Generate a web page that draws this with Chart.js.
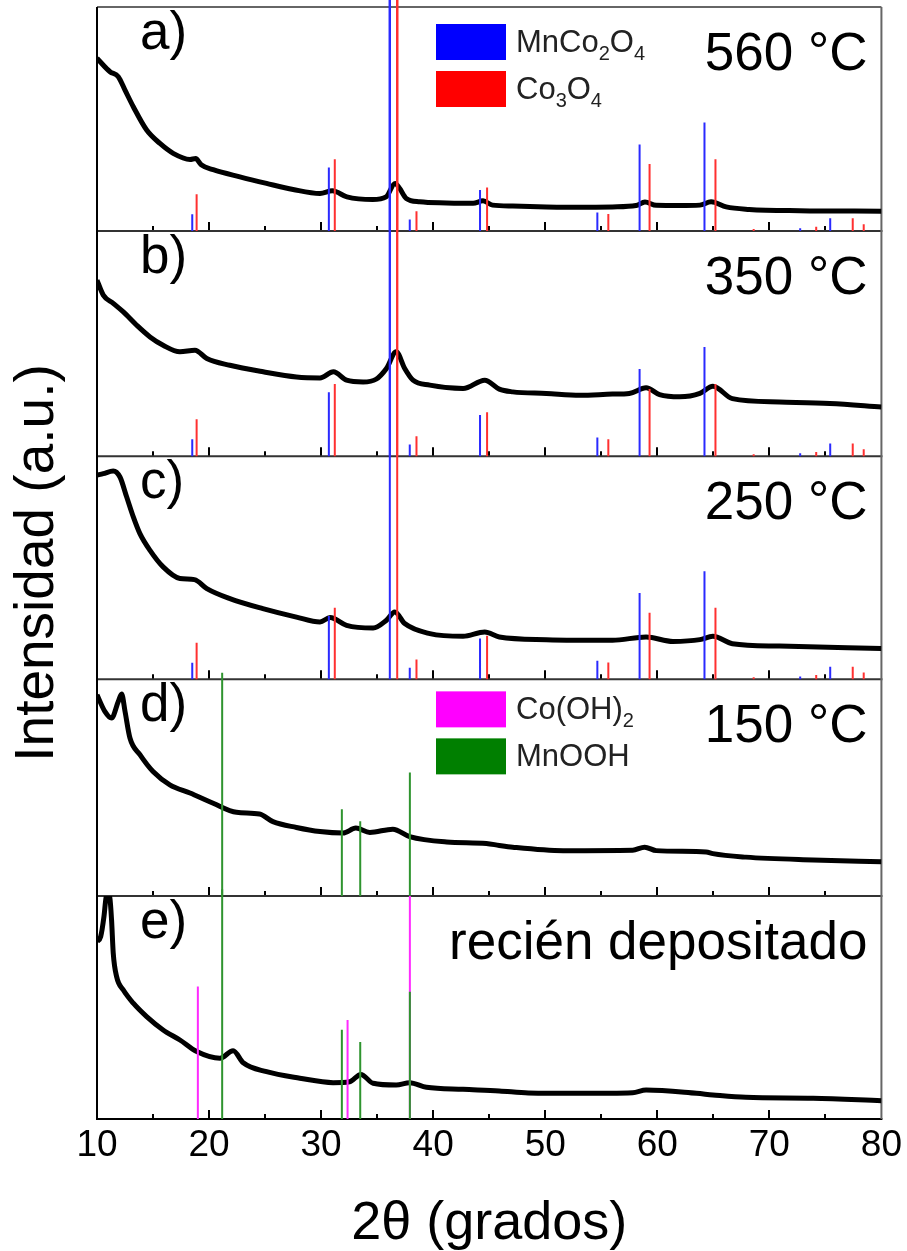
<!DOCTYPE html>
<html lang="es">
<head>
<meta charset="utf-8">
<title>DRX - MnCo2O4</title>
<script src="https://cdn.jsdelivr.net/npm/chart.js@4.4.1/dist/chart.umd.min.js"></script>
<style>
  html, body { margin: 0; padding: 0; background: #fff; }
  canvas { display: block; }
</style>
</head>
<body>
<canvas id="xrd" width="907" height="1251"></canvas>
<script>
// 2theta axis
const xTicks = [10, 20, 30, 40, 50, 60, 70, 80];

// measured patterns, [2theta, intensity] (each panel 0-100 a.u.)
const curveA = [[10.0,77.1],[11.16,71.1],[11.9,68.9],[12.5,62.9],[13.24,55.5],[14.43,45.1],[15.62,39.1],[16.8,34.7],[18.3,32.0],[18.8,32.4],[19.3,29.6],[20.37,27.4],[22.75,24.2],[25.13,21.3],[27.5,18.6],[29.9,16.8],[31.0,18.0],[32.3,15.3],[34.6,14.1],[35.8,15.3],[36.6,21.3],[37.0,19.1],[37.6,14.6],[38.8,13.1],[41.2,12.6],[43.56,12.4],[44.45,13.5],[45.3,11.6],[47.1,11.2],[50.1,10.8],[53.1,10.6],[56.0,10.8],[58.1,11.4],[58.9,13.0],[59.9,11.5],[62.0,11.4],[63.8,11.6],[64.8,13.1],[66.15,10.8],[68.2,9.7],[72.7,9.1],[80,8.9]];
const curveB = [[10.0,78.2],[10.56,71.6],[11.45,67.9],[12.35,64.1],[13.54,58.2],[14.73,53.0],[15.9,49.3],[17.4,46.4],[18.74,47.1],[19.8,43.4],[21.86,40.4],[24.83,37.5],[27.8,35.2],[29.9,34.8],[31.1,37.5],[32.27,33.8],[33.75,33.0],[34.9,34.2],[35.83,39.0],[36.7,46.4],[37.46,39.0],[38.2,33.8],[39.7,31.6],[42.67,30.1],[44.6,33.8],[45.9,29.8],[47.1,28.6],[50.1,27.9],[53.1,27.1],[56.0,27.6],[57.5,27.9],[59.0,30.4],[60.2,27.4],[62.0,26.4],[63.8,27.9],[64.96,31.1],[66.7,25.6],[70.9,24.1],[75.4,23.4],[80,21.9]];
const curveC = [[10.0,91.5],[10.56,92.2],[11.45,93.4],[12.05,90.7],[12.65,81.7],[13.24,72.8],[13.83,65.3],[14.73,57.8],[15.9,50.4],[17.4,45.2],[18.7,44.7],[19.8,40.7],[21.86,36.2],[24.8,31.7],[27.8,27.9],[29.9,25.7],[30.8,27.7],[32.27,24.2],[34.64,23.0],[35.83,26.5],[36.57,30.2],[37.46,25.0],[39.7,20.5],[42.67,19.3],[44.6,21.2],[45.9,19.0],[50.1,17.8],[56.0,17.5],[59.0,19.0],[61.4,17.0],[63.8,17.8],[64.96,19.3],[66.7,16.0],[70.9,14.9],[80,13.8]];
const curveD = [[10.0,92.9],[10.7,85.2],[11.3,82.1],[11.9,89.8],[12.2,93.2],[12.5,85.2],[12.94,72.9],[13.83,65.2],[15.0,57.4],[16.5,51.3],[18.3,47.5],[20.37,42.8],[22.45,38.6],[24.5,37.8],[25.7,34.3],[27.8,31.6],[29.9,29.7],[31.96,29.0],[33.1,31.3],[34.35,29.3],[36.4,30.8],[37.9,27.4],[41.2,24.9],[44.75,24.2],[45.9,23.3],[47.1,22.5],[51.6,20.9],[57.8,21.1],[58.87,22.5],[59.9,20.9],[64.36,20.3],[64.96,19.5],[67.9,17.9],[73.9,16.6],[80,15.8]];
const curveE = [[10.0,79.5],[10.33,81.8],[10.62,90.7],[10.8,99],[10.95,101],[11.15,99],[11.3,89.2],[11.45,74.3],[11.75,63.8],[12.35,57.8],[13.24,51.9],[14.43,45.9],[15.9,39.9],[17.4,35.4],[18.9,30.2],[20.97,27.2],[22.15,30.6],[23.05,25.2],[25.13,21.2],[28.1,18.3],[31.07,16.3],[32.56,16.7],[33.54,20.0],[34.64,16.0],[36.7,15.2],[37.9,16.3],[39.4,14.2],[42.67,13.3],[45.9,12.6],[48.5,11.7],[53.1,11.5],[57.8,11.8],[59.0,13.0],[63.5,11.5],[64.96,10.8],[67.9,9.7],[73.9,9.3],[80,8.2]];

// reference cards: positions (2theta) and relative intensities
const mnco2o4Pos = [18.5, 30.69, 36.13, 37.91, 44.18, 54.65, 58.42, 64.21, 72.75, 75.43];
const mnco2o4Int = [7.5, 28.4, 310, 5.2, 18.3, 8.3, 38.7, 48.5, 1.3, 5.7];
const co3o4Pos = [18.89, 31.22, 36.79, 38.51, 44.81, 55.63, 59.31, 65.19, 68.6, 74.18, 77.44, 78.42];
const co3o4Int = [16.4, 32.1, 310, 8.9, 19.5, 7.6, 29.9, 32.1, 0.9, 1.9, 5.7, 3.1];
const cooh2Pos = [19.0, 32.36, 37.92];
const cooh2Int = [59.4, 44.4, 100];
const mnoohPos = [21.17, 31.85, 33.49, 37.92];
const mnoohInt = [103, 40, 34.5, 57];

const panelLetters = ['a)', 'b)', 'c)', 'd)', 'e)'];
const panelTemps = ['560 °C', '350 °C', '250 °C', '150 °C', 'recién depositado'];

const FONT = 'Liberation Sans, Arial, Helvetica, sans-serif';
Chart.defaults.font.family = FONT;
Chart.defaults.color = '#000';

const refStyle = {
  mnco2o4: { label: 'MnCo_2O_4', color: '#0000ff', line: '#2a2aff', pos: mnco2o4Pos, int: mnco2o4Int },
  co3o4: { label: 'Co_3O_4', color: '#ff0000', line: '#ff3030', pos: co3o4Pos, int: co3o4Int },
  cooh2: { label: 'Co(OH)_2', color: '#ff00ff', line: '#ff2aff', pos: cooh2Pos, int: cooh2Int },
  mnooh: { label: 'MnOOH', color: '#007f00', line: '#2f942f', pos: mnoohPos, int: mnoohInt }
};

// top to bottom
const panels = [
  { id: 'ya', curve: curveA, refs: ['mnco2o4', 'co3o4'], weight: 224, legend: ['mnco2o4', 'co3o4'], legendTop: 17 },
  { id: 'yb', curve: curveB, refs: ['mnco2o4', 'co3o4'], weight: 225 },
  { id: 'yc', curve: curveC, refs: ['mnco2o4', 'co3o4'], weight: 223 },
  { id: 'yd', curve: curveD, refs: ['mnooh'], weight: 216.4, legend: ['cooh2', 'mnooh'], legendTop: 12 },
  { id: 'ye', curve: curveE, refs: ['cooh2', 'mnooh'], weight: 223 }
];

function sticks(pos, inten) {
  const pts = [];
  pos.forEach((p, i) => {
    pts.push({ x: p, y: 0 }, { x: p, y: inten[i] }, { x: p, y: null });
  });
  return pts;
}

const datasets = [];
panels.forEach(p => {
  datasets.push({
    label: p.id + ' pattern',
    data: p.curve.map(([x, y]) => ({ x, y })),
    yAxisID: p.id,
    borderColor: '#000',
    borderWidth: 5,
    pointRadius: 0,
    cubicInterpolationMode: 'monotone',
    order: 5
  });
  p.refs.forEach(key => {
    const r = refStyle[key];
    datasets.push({
      label: p.id + ' ' + key,
      data: sticks(r.pos, r.int),
      yAxisID: p.id,
      borderColor: r.line,
      borderWidth: 2,
      pointRadius: 0,
      spanGaps: false,
      clip: false,
      order: key === 'mnooh' ? 0 : 1
    });
  });
});

const scales = {
  x: {
    type: 'linear',
    min: 10,
    max: 80,
    afterFit: s => { s.height = 132; },
    afterBuildTicks: s => { s.ticks = xTicks.map(v => ({ value: v })); },
    grid: { display: false, drawTicks: false },
    border: { display: false },
    ticks: { font: { size: 37 }, padding: 5, color: '#000' },
    title: { display: true, text: '2θ (grados)', font: { size: 54, lineHeight: 1 }, padding: { top: 0, bottom: 0 }, color: '#000' }
  }
};
// left stacks are laid out last-first, so register bottom panel first
panels.slice().reverse().forEach(p => {
  scales[p.id] = {
    type: 'linear', display: false, min: 0, max: 100,
    position: 'left', stack: 'panels', stackWeight: p.weight
  };
});

function drawChem(ctx, text, x, y, size) {
  // "_n" marks a subscript digit
  const parts = text.split(/(_\d)/).filter(Boolean);
  parts.forEach(part => {
    if (part[0] === '_') {
      ctx.font = Math.round(size * 0.64) + 'px ' + FONT;
      ctx.fillText(part.slice(1), x, y + size * 0.26);
      x += ctx.measureText(part.slice(1)).width;
    } else {
      ctx.font = size + 'px ' + FONT;
      ctx.fillText(part, x, y);
      x += ctx.measureText(part).width;
    }
  });
}

const panelFrame = {
  id: 'panelFrame',
  beforeDatasetsDraw(chart) {
    const ctx = chart.ctx;
    const xs = chart.scales.x;
    const area = chart.chartArea;
    ctx.save();
    ctx.lineCap = 'butt';
    panels.forEach((p, i) => {
      const ys = chart.scales[p.id];
      // inner ticks every 5 degrees
      ctx.strokeStyle = '#000';
      ctx.lineWidth = 2;
      for (let v = 15; v < 80; v += 5) {
        const px = Math.round(xs.getPixelForValue(v));
        const len = v % 10 === 0 ? 9 : 5;
        ctx.beginPath();
        ctx.moveTo(px, ys.bottom);
        ctx.lineTo(px, ys.bottom - len);
        ctx.stroke();
      }
      ctx.strokeStyle = i === panels.length - 1 ? '#000' : '#333';
      ctx.beginPath();
      ctx.moveTo(area.left - 1, ys.bottom);
      ctx.lineTo(area.right + 1, ys.bottom);
      ctx.stroke();
    });
    ctx.strokeStyle = '#666';
    ctx.beginPath();
    ctx.moveTo(area.left, area.top);
    ctx.lineTo(area.right, area.top);
    ctx.moveTo(area.right, area.top);
    ctx.lineTo(area.right, area.bottom);
    ctx.stroke();
    ctx.strokeStyle = '#000';
    ctx.beginPath();
    ctx.moveTo(area.left, area.top);
    ctx.lineTo(area.left, area.bottom + 1);
    ctx.stroke();
    ctx.restore();
  },
  afterDraw(chart) {
    const ctx = chart.ctx;
    const xs = chart.scales.x;
    const area = chart.chartArea;
    ctx.save();
    ctx.fillStyle = '#000';
    ctx.textBaseline = 'alphabetic';
    panels.forEach((p, i) => {
      const ys = chart.scales[p.id];
      ctx.font = '53px ' + FONT;
      ctx.textAlign = 'left';
      ctx.fillText(panelLetters[i], xs.left + 43, ys.top + 42);
      ctx.textAlign = 'right';
      ctx.fillText(panelTemps[i], xs.right - 14, ys.top + 63);
      if (p.legend) {
        ctx.textAlign = 'left';
        p.legend.forEach((key, k) => {
          const r = refStyle[key];
          const top = ys.top + p.legendTop + k * 47;
          ctx.fillStyle = r.color;
          ctx.fillRect(xs.left + 339, top, 70, 36);
          ctx.fillStyle = '#222';
          drawChem(ctx, r.label, xs.left + 419, top + 28, 31);
        });
        ctx.fillStyle = '#000';
      }
    });
    // vertical axis title
    ctx.translate(38, (area.top + area.bottom) / 2);
    ctx.rotate(-Math.PI / 2);
    ctx.textAlign = 'center';
    ctx.textBaseline = 'middle';
    ctx.font = '55px ' + FONT;
    ctx.fillText('Intensidad (a.u.)', 0, 0);
    ctx.restore();
  }
};

new Chart(document.getElementById('xrd'), {
  type: 'line',
  data: { datasets },
  options: {
    responsive: false,
    animation: false,
    devicePixelRatio: 1,
    layout: { padding: { left: 97, right: 25, top: 7, bottom: 0 } },
    plugins: { legend: { display: false }, tooltip: { enabled: false } },
    scales
  },
  plugins: [panelFrame]
});
</script>
</body>
</html>
